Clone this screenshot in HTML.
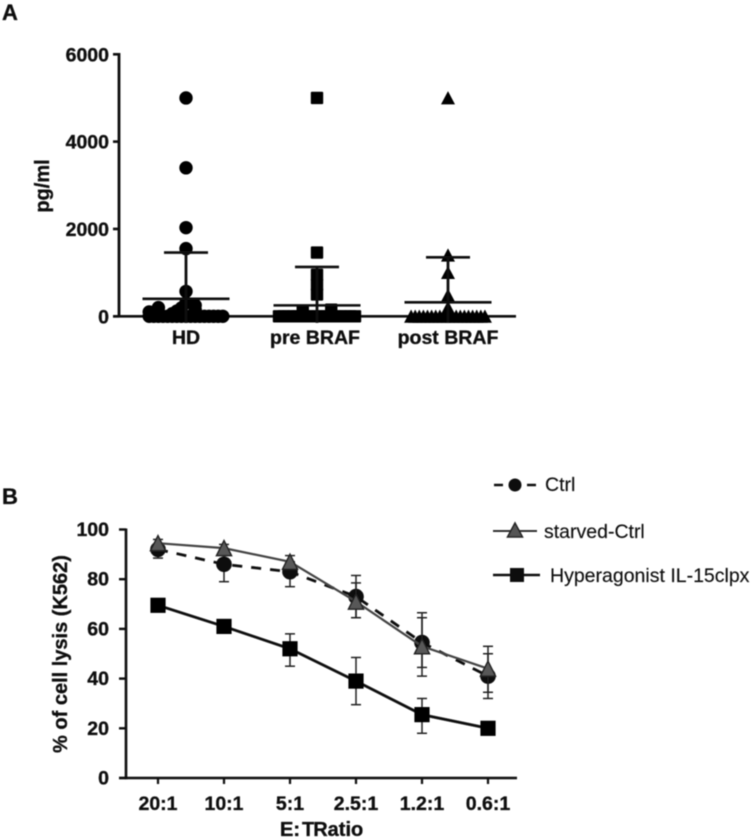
<!DOCTYPE html>
<html lang="en">
<head>
<meta charset="utf-8">
<title>Panels A and B</title>
<style>
html,body{margin:0;padding:0;background:#fff;}
svg{display:block;}
text{font-family:"Liberation Sans",Arial,sans-serif;fill:#0a0a0a;}
.b{font-weight:bold;font-size:19.5px;stroke:#0a0a0a;stroke-width:0.3px;}
.leg{font-size:19.5px;fill:#111;stroke:#111;stroke-width:0.15px;}
</style>
</head>
<body>
<svg id="fig" width="751" height="839" viewBox="0 0 751 839" xmlns="http://www.w3.org/2000/svg">
<defs><filter id="soft" x="-2%" y="-2%" width="104%" height="104%"><feGaussianBlur stdDeviation="0.4"/></filter></defs>
<g id="root" filter="url(#soft)">
<text x="2" y="20" class="b" style="font-size:22px">A</text>
<text x="2" y="504" class="b" style="font-size:22px">B</text>
<text class="b" transform="translate(49,186) rotate(-90)" text-anchor="middle" style="font-size:20px">pg/ml</text>
<text class="b" transform="translate(67,654) rotate(-90)" text-anchor="middle" style="font-size:20px">% of cell lysis (K562)</text>
<text class="b" x="280" y="836" style="font-size:20px">E:<tspan dx="2">T</tspan><tspan dx="-1">Ratio</tspan></text>
<g>
<g>
<line x1="494" y1="485" x2="503" y2="485" stroke="#111" stroke-width="2.5"/>
<line x1="527" y1="485" x2="536" y2="485" stroke="#111" stroke-width="2.5"/>
<circle cx="515" cy="485" r="6.5" fill="#111"/>
<text class="leg" x="545" y="491">Ctrl</text>
</g>
<g>
<line x1="493" y1="531" x2="537" y2="531" stroke="#333" stroke-width="2"/>
<polygon points="515,523 522.5,537 507.5,537" fill="#555" stroke="#222" stroke-width="1.5"/>
<text class="leg" x="544" y="538">starved-Ctrl</text>
</g>
<g>
<line x1="493" y1="575" x2="540" y2="575" stroke="#111" stroke-width="2.5"/>
<rect x="510" y="568" width="14" height="14" fill="#111"/>
<text class="leg" x="550" y="582">Hyperagonist IL-15clpx</text>
</g>
</g>
</g>
</svg>
<script>
// Panel A data
const scatterGroups = ['HD', 'pre BRAF', 'post BRAF'];
const scatterTicks = [0, 2000, 4000, 6000];
const hdValues = [5000, 3400, 2030, 1550, 570, 310, 250, 200, 190, 150, 120, 100, 60,
  0, 0, 0, 0, 0, 0, 0, 0, 0, 0, 0, 0, 0, 0, 0, 0, 0];
const hdSlots = [0, 0, 0, 0, 0, 0, 2, -6, -1, 2, -2, -8, -3,
  -8, -7, -6, -5, -4, -3, -2, -1, 0, 1, 2, 3, 4, 5, 6, 7, 8];
const preValues = [5000, 1460, 950, 720, 500, 150, 110,
  0, 0, 0, 0, 0, 0, 0, 0, 0, 0, 0, 0, 0, 0, 0, 0, 0];
const preSlots = [0, 0, 0, 0, 0, 3, -3,
  -8, -7, -6, -5, -4, -3, -2, -1, 0, 1, 2, 3, 4, 5, 6, 7, 8];
const postValues = [5000, 1400, 1000, 480, 200,
  0, 0, 0, 0, 0, 0, 0, 0, 0, 0, 0, 0, 0, 0, 0, 0, 0, 0, 0];
const postSlots = [0, 0, 0, 0, 0,
  -9, -8, -7, -6, -5, -4, -3, -2, -1, 0, 1, 2, 3, 4, 5, 6, 7, 8, 9];
const groupMeans = [400, 250, 320];
const groupUpper = [1460, 1130, 1350];
const groupLower = [-150, -150, -150];

// Panel B data
const ratioLabels = ['20:1', '10:1', '5:1', '2.5:1', '1.2:1', '0.6:1'];
const lysisTicks = [0, 20, 40, 60, 80, 100];
const ctrlValues = [92, 86, 83, 73, 54.5, 41];
const ctrlUpper = [94, 92, 87, 81.5, 66.5, 50];
const ctrlLower = [88.5, 79, 77, 64.5, 41, 32];
const starvedValues = [94.5, 92.5, 87, 71, 53, 44];
const starvedUpper = [96, 94, 89.5, 78.5, 64.5, 53];
const starvedLower = [92, 90, 84, 64.5, 44.5, 34.5];
const hyperValues = [69.5, 61, 52, 39, 25.5, 20];
const hyperUpper = [70, 62, 58, 48.5, 32, 20.5];
const hyperLower = [69, 60, 45, 29.5, 18, 19.5];

const NS = 'http://www.w3.org/2000/svg';
const root = document.getElementById('root');
function mk(tag, attrs, parent, txt) {
  const el = document.createElementNS(NS, tag);
  for (const k in attrs) el.setAttribute(k, attrs[k]);
  if (txt !== undefined) el.textContent = txt;
  (parent || root).appendChild(el);
  return el;
}
function seg(parent, x1, y1, x2, y2, color, w, dash) {
  const a = {x1: x1, y1: y1, x2: x2, y2: y2, stroke: color, 'stroke-width': w};
  if (dash) a['stroke-dasharray'] = dash;
  return mk('line', a, parent);
}

// Axis functions
const xA = i => 186 + i * 131;
const yA = v => 316.3 - v / 6000 * 262;
const xB = i => 158 + i * 66;
const yB = v => 778 - v * 2.485;

// Panel A
const chartA = mk('g', {});



function marker(parent, kind, cx, cy) {
  if (kind === 0) return mk('circle', {cx: cx, cy: cy, r: 6.7, fill: '#050505'}, parent);
  if (kind === 1) return mk('rect', {x: cx - 6.2, y: cy - 6.2, width: 12.4, height: 12.4, rx: 1, fill: '#050505'}, parent);
  return mk('polygon', {points: (cx) + ',' + (cy - 6.8) + ' ' + (cx + 7) + ',' + (cy + 6.4) + ' ' + (cx - 7) + ',' + (cy + 6.4), fill: '#050505'}, parent);
}
const scatterSets = [[hdValues, hdSlots, 4.6], [preValues, preSlots, 4.75], [postValues, postSlots, 4.1]];

seg(chartA, 119, 53, 119, 317.2, '#0a0a0a', 2.8);
seg(chartA, 113, yA(0), 516, yA(0), '#0a0a0a', 2.6);
scatterTicks.forEach(function (t) {
  const g = mk('g', {}, chartA);
  
  
  seg(g, 113, yA(t), 119, yA(t), '#0a0a0a', 2.6);
  mk('text', {x: 109, y: yA(t) + 7, 'text-anchor': 'end', class: 'b'}, g, String(t));
});
scatterGroups.forEach(function (name, i) {
  const g = mk('g', {}, chartA);
  
  
  const set = scatterSets[i];
  set[0].forEach(function (v, j) {
    const m = marker(g, i, xA(i) + set[1][j] * set[2], yA(v));
    
    
  });
  const stem = seg(g, xA(i), yA(groupUpper[i]), xA(i), yA(groupLower[i]), '#0a0a0a', 2.8);
  
  
  const cap = seg(g, xA(i) - 22, yA(groupUpper[i]), xA(i) + 22, yA(groupUpper[i]), '#0a0a0a', 2.6);
  
  
  const mean = seg(g, xA(i) - 43.5, yA(groupMeans[i]), xA(i) + 43.5, yA(groupMeans[i]), '#0a0a0a', 2.6);
  
  
  const lab = mk('text', {x: xA(i) - (i === 1 ? 2 : 0), y: 344, 'text-anchor': 'middle', class: 'b'}, g, name);
  
  
});

// Panel B
const chartB = mk('g', {});



seg(chartB, 126, 528.5, 126, 779.2, '#0a0a0a', 2.6);
seg(chartB, 119, yB(0), 517, yB(0), '#0a0a0a', 2.6);
lysisTicks.forEach(function (t) {
  const g = mk('g', {}, chartB);
  
  
  seg(g, 119, yB(t), 126, yB(t), '#0a0a0a', 2.4);
  mk('text', {x: 109, y: yB(t) + 6.5, 'text-anchor': 'end', class: 'b'}, g, String(t));
});
ratioLabels.forEach(function (name, i) {
  const g = mk('g', {}, chartB);
  
  
  seg(g, xB(i), yB(0), xB(i), yB(0) + 6, '#0a0a0a', 2.2);
  mk('text', {x: xB(i), y: 810, 'text-anchor': 'middle', class: 'b'}, g, name);
});

function pathOf(values) {
  return values.map(function (v, i) { return (i ? 'L' : 'M') + xB(i) + ' ' + yB(v); }).join(' ');
}
function drawSeries(label, values, upper, lower, color, lineW, dash, kind) {
  const g = mk('g', {}, chartB);
  
  
  values.forEach(function (v, i) {
    const x = xB(i);
    seg(g, x, yB(upper[i]), x, yB(lower[i]), '#222', 1.5);
    seg(g, x - 5, yB(upper[i]), x + 5, yB(upper[i]), '#222', 1.5);
    seg(g, x - 5, yB(lower[i]), x + 5, yB(lower[i]), '#222', 1.5);
  });
  const a = {d: pathOf(values), fill: 'none', stroke: color, 'stroke-width': lineW};
  if (dash) a['stroke-dasharray'] = dash;
  mk('path', a, g);
  values.forEach(function (v, i) {
    const x = xB(i), y = yB(v);
    if (kind === 'circle') mk('circle', {cx: x, cy: y, r: 7.8, fill: '#080808'}, g);
    if (kind === 'square') mk('rect', {x: x - 7.6, y: y - 7.6, width: 15.2, height: 15.2, fill: '#050505'}, g);
    if (kind === 'triangle') mk('polygon', {points: x + ',' + (y - 7.5) + ' ' + (x + 7.5) + ',' + (y + 7.5) + ' ' + (x - 7.5) + ',' + (y + 7.5), fill: '#585858', stroke: '#222', 'stroke-width': 1.5}, g);
  });
}
drawSeries('series-hyperagonist', hyperValues, hyperUpper, hyperLower, '#0a0a0a', 2.8, null, 'square');
drawSeries('series-ctrl', ctrlValues, ctrlUpper, ctrlLower, '#0a0a0a', 2.8, '10 9', 'circle');
drawSeries('series-starved-ctrl', starvedValues, starvedUpper, starvedLower, '#444', 2.2, null, 'triangle');
</script>
</body>
</html>
